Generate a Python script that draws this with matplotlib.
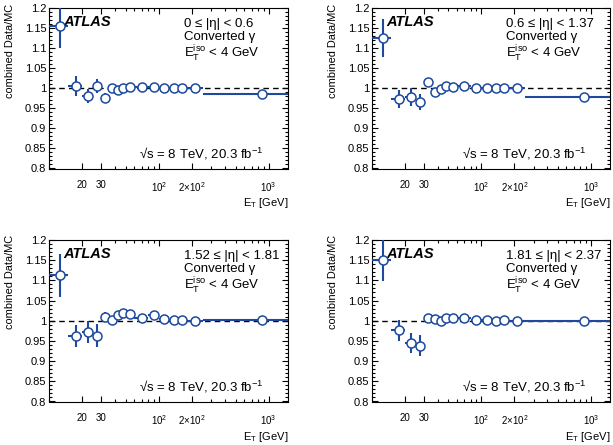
import numpy as np
import matplotlib
matplotlib.use('Agg')
import matplotlib.pyplot as plt
from matplotlib.ticker import FixedLocator, FixedFormatter, MultipleLocator, FuncFormatter, NullFormatter

plt.rcParams['font.family'] = ['Liberation Sans', 'DejaVu Sans']
plt.rcParams['mathtext.fontset'] = 'custom'
plt.rcParams['mathtext.rm'] = 'Liberation Sans'
plt.rcParams['mathtext.it'] = 'Liberation Sans:italic'
plt.rcParams['mathtext.bf'] = 'Liberation Sans:bold'

# ET bins [GeV]
et_lo = np.array([10, 15, 20, 25, 30, 35, 40, 45, 50, 60, 80, 100, 125, 150, 175, 250])
et_hi = np.array([15, 20, 25, 30, 35, 40, 45, 50, 60, 80, 100, 125, 150, 175, 250, 1500])
et_c = np.array([12.5, 17.5, 22.5, 27.5, 32.5, 37.5, 42.5, 47.5, 55, 70, 90, 112.5, 137.5, 162.5, 212.5, 875])

# combined Data/MC ratio per |eta| bin
ratio_eta1 = [1.157, 1.006, 0.981, 1.006, 0.976, 1.000, 0.996, 1.002, 1.004, 1.004, 1.003, 1.000, 1.001, 1.000, 1.000, 0.987]
err_eta1 = [0.057, 0.026, 0.018, 0.018, 0.012, 0.006, 0.005, 0.005, 0.004, 0.004, 0.004, 0.004, 0.004, 0.004, 0.004, 0.004]
ratio_eta2 = [1.126, 0.974, 0.978, 0.967, 1.016, 0.990, 0.999, 1.006, 1.003, 1.005, 1.002, 1.002, 1.002, 1.002, 1.002, 0.978]
err_eta2 = [0.048, 0.022, 0.022, 0.020, 0.010, 0.006, 0.005, 0.005, 0.004, 0.004, 0.004, 0.004, 0.004, 0.004, 0.004, 0.004]
ratio_eta3 = [1.113, 0.962, 0.972, 0.963, 1.010, 1.002, 1.014, 1.019, 1.016, 1.008, 1.014, 1.004, 1.001, 1.003, 1.000, 1.001]
err_eta3 = [0.053, 0.028, 0.028, 0.028, 0.012, 0.006, 0.005, 0.005, 0.004, 0.004, 0.004, 0.004, 0.004, 0.004, 0.004, 0.004]
ratio_eta4 = [1.150, 0.976, 0.945, 0.938, 1.007, 1.004, 1.000, 1.006, 1.006, 1.007, 1.002, 1.001, 0.999, 1.001, 1.000, 1.000]
err_eta4 = [0.052, 0.025, 0.025, 0.026, 0.009, 0.006, 0.005, 0.005, 0.004, 0.004, 0.004, 0.004, 0.004, 0.004, 0.004, 0.004]

eta_labels = [u'0 \u2264 |\u03b7| < 0.6', u'0.6 \u2264 |\u03b7| < 1.37',
              u'1.52 \u2264 |\u03b7| < 1.81', u'1.81 \u2264 |\u03b7| < 2.37']
ratios = [ratio_eta1, ratio_eta2, ratio_eta3, ratio_eta4]
errs = [err_eta1, err_eta2, err_eta3, err_eta4]

xtick_vals = [20, 30, 100, 200, 1000]
xtick_text = ['20', '30', r'$10^{2}$', r'$2{\times}10^{2}$', r'$10^{3}$']

blue = '#1d4a9e'
W, H = 613.0, 445.0
# axes boxes in pixels: left, top, right, bottom
boxes = [(49, 8.3, 288, 168.5), (372, 8.3, 610, 168.5),
         (49, 240, 288, 401.5), (372, 240, 610, 401.5)]

fig = plt.figure(figsize=(W / 100, H / 100), dpi=100)

for i in range(4):
    l, t, r, b = boxes[i]
    ax = fig.add_axes([l / W, 1 - b / H, (r - l) / W, (b - t) / H])
    ax.set_xscale('log')
    ax.set_xlim(10, 1500)
    ax.set_ylim(0.8, 1.2)

    ax.axhline(1.0, color='black', ls=(0, (4, 3)), lw=1.0, zorder=1)
    xerr = [et_c - et_lo, et_hi - et_c]
    ax.errorbar(et_c, ratios[i], yerr=errs[i], xerr=xerr, fmt='o', color=blue,
                mfc='white', mec=blue, ms=6.5, mew=1.1, elinewidth=1.5, capsize=0, zorder=3)

    # axis ticks, ROOT-like
    ax.xaxis.set_major_locator(FixedLocator(xtick_vals))
    ax.xaxis.set_major_formatter(FixedFormatter(xtick_text))
    ax.xaxis.set_minor_locator(FixedLocator([v * d for d in [10, 100, 1000] for v in range(1, 10) if v * d <= 1500]))
    ax.xaxis.set_minor_formatter(NullFormatter())
    ax.yaxis.set_major_locator(MultipleLocator(0.05))
    ax.yaxis.set_minor_locator(MultipleLocator(0.01))
    ax.yaxis.set_major_formatter(FuncFormatter(lambda v, p: '%g' % round(v, 3)))
    ax.tick_params(which='both', direction='in', top=True, right=True, width=0.8)
    ax.tick_params(which='major', length=4.5)
    ax.tick_params(which='minor', length=2.2)
    ax.tick_params(axis='x', which='major', labelsize=7, pad=8.5)
    ax.tick_params(axis='y', which='major', labelsize=8, pad=2)
    for s in ax.spines.values():
        s.set_linewidth(0.8)

    ax.set_ylabel('combined Data/MC', fontsize=7.9, loc='top')
    ax.yaxis.set_label_coords(-0.142, 1.03)
    ax.text(1.0, -0.217, r'$\mathregular{E_{T}}$ [GeV]', transform=ax.transAxes,
            ha='right', va='center', fontsize=8)

    ax.text(0.059, 0.914, 'ATLAS', transform=ax.transAxes, fontsize=10.5,
            fontweight='bold', fontstyle='italic', ha='left', va='center')
    ax.text(0.565, 0.902, eta_labels[i], transform=ax.transAxes, fontsize=9.5, ha='left', va='center')
    ax.text(0.565, 0.820, u'Converted \u03b3', transform=ax.transAxes, fontsize=9.5, ha='left', va='center')
    ax.text(0.565, 0.715, r'$\mathregular{E_{T}^{iso}}$ < 4 GeV', transform=ax.transAxes,
            fontsize=9.5, ha='left', va='center')
    ax.text(0.377, 0.089, u'\u221as = 8 TeV, 20.3 fb$^{\\mathregular{-1}}$',
            transform=ax.transAxes, fontsize=9.5, ha='left', va='center')

fig.savefig('out.png', dpi=100)
